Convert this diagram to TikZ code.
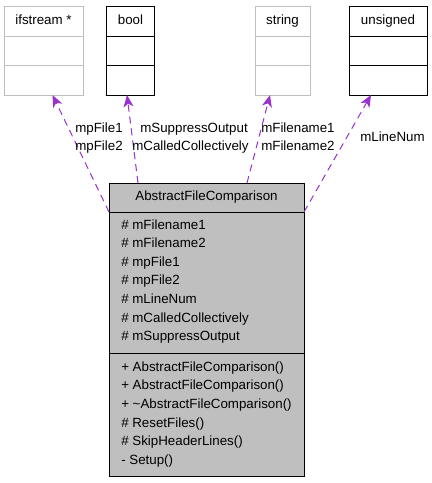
\documentclass[tikz,border=0pt]{standalone}
\usepackage{fontspec}
\setmainfont{Liberation Sans}
\usetikzlibrary{arrows.meta,calc}
\definecolor{edgepurple}{RGB}{154,50,205}
\definecolor{boxgray}{RGB}{191,191,191}
\def\px{0.75pt}
\begin{document}
\begin{tikzpicture}[x=0.75pt,y=-0.75pt,
  font=\fontsize{10}{12}\selectfont,
  box/.style={draw, rectangle, inner sep=0pt, outer sep=0pt, line width=0.75pt,
    text height=7.3pt, text depth=2.1pt},
  graybox/.style={box, draw=boxgray},
  blackbox/.style={box, draw=black},
  mainbox/.style={box, draw=black, fill=boxgray},
  member/.style={anchor=base west, inner sep=0pt},
  elabel/.style={anchor=base west, inner sep=0pt},
  usage/.style={draw=edgepurple, line width=0.75pt, dash pattern=on 5.25pt off 3.75pt,
    -{Stealth[length=9pt,width=7.5pt,inset=2.5pt,fill=edgepurple]}}]

\fill[white] (0,0) rectangle (432,483);
\useasboundingbox (0,0) rectangle (432,483);

% ifstream *
\node[graybox, minimum width=79*\px, minimum height=30*\px] (ifsh) at (43.5,21) {ifstream *};
\node[graybox, minimum width=79*\px, minimum height=29*\px] (ifsm) at (43.5,50.5) {};
\node[graybox, minimum width=79*\px, minimum height=30*\px] (ifsb) at (43.5,80) {};

% bool
\node[blackbox, minimum width=48*\px, minimum height=30*\px] (boolh) at (130.5,21) {bool};
\node[blackbox, minimum width=48*\px, minimum height=29*\px] (boolm) at (130.5,50.5) {};
\node[blackbox, minimum width=48*\px, minimum height=30*\px] (boolb) at (130.5,80) {};

% string
\node[graybox, minimum width=55*\px, minimum height=30*\px] (strh) at (282.5,21) {string};
\node[graybox, minimum width=55*\px, minimum height=29*\px] (strm) at (282.5,50.5) {};
\node[graybox, minimum width=55*\px, minimum height=30*\px] (strb) at (282.5,80) {};

% unsigned
\node[blackbox, minimum width=78*\px, minimum height=30*\px] (unsh) at (388,21) {unsigned};
\node[blackbox, minimum width=78*\px, minimum height=29*\px] (unsm) at (388,50.5) {};
\node[blackbox, minimum width=78*\px, minimum height=30*\px] (unsb) at (388,80) {};

% main class
\node[mainbox, minimum width=195*\px, minimum height=29*\px] (mainh) at (206.5,197.5) {AbstractFileComparison};
\node[mainbox, minimum width=195*\px, minimum height=141*\px] (maina) at (206.5,282.5) {};
\node[mainbox, minimum width=195*\px, minimum height=123*\px] (maino) at (206.5,414.5) {};

% attributes
\node[member] (a1) at (121,229) {\# mFilename1};
\node[member] (a2) at (121,247.6) {\# mFilename2};
\node[member] (a3) at (121,266.2) {\# mpFile1};
\node[member] (a4) at (121,284.8) {\# mpFile2};
\node[member] (a5) at (121,303.4) {\# mLineNum};
\node[member] (a6) at (121,322) {\# mCalledCollectively};
\node[member] (a7) at (121,340.6) {\# mSuppressOutput};

% operations
\node[member] (o1) at (121,371.2) {+ AbstractFileComparison()};
\node[member] (o2) at (121,389.8) {+ AbstractFileComparison()};
\node[member] (o3) at (121,408.4) {+ \textasciitilde AbstractFileComparison()};
\node[member] (o4) at (121,427) {\# ResetFiles()};
\node[member] (o5) at (121,445.6) {\# SkipHeaderLines()};
\node[member] (o6) at (121,464.2) {- Setup()};

% connectors
\draw[usage] (mainh.south west) -- ($(ifsb.south)+(9,0)$);
\draw[usage] ($(mainh.north west)+(29,0)$) -- ($(boolb.south)+(-3.5,0)$);
\draw[usage] ($(mainh.north west)+(138,0)$) -- ($(strb.south)+(-12.5,0)$);
\draw[usage] (mainh.south east) -- ($(unsb.south)+(-17,0)$);

% connector labels
\node[elabel] (l1) at (75,132) {mpFile1};
\node[elabel] (l2) at (75,150.6) {mpFile2};
\node[elabel] (l3) at (140,132) {mSuppressOutput};
\node[elabel] (l4) at (132,150.6) {mCalledCollectively};
\node[elabel] (l5) at (261,132) {mFilename1};
\node[elabel] (l6) at (261,150.6) {mFilename2};
\node[elabel] (l7) at (360,141) {mLineNum};
\end{tikzpicture}
\end{document}
